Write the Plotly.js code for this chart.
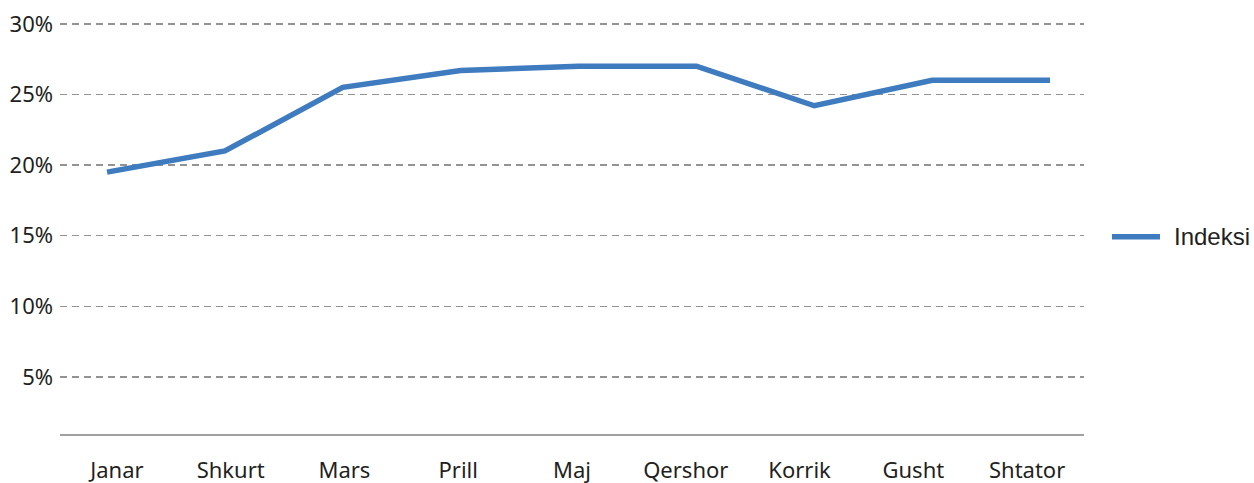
<!DOCTYPE html>
<html>
<head>
<meta charset="utf-8">
<script src="https://cdn.plot.ly/plotly-3.0.1.min.js"></script>
<style>
html,body{margin:0;padding:0;background:#fff;}
#chart{width:1254px;height:483px;}
</style>
</head>
<body>
<div id="chart"></div>
<script>
const months = ["Janar","Shkurt","Mars","Prill","Maj","Qershor","Korrik","Gusht","Shtator"];
const indeksi = [0.195, 0.210, 0.255, 0.267, 0.270, 0.270, 0.242, 0.260, 0.260];
const yTicks = [0.05, 0.10, 0.15, 0.20, 0.25, 0.30];
const yTickLabels = ["5%","10%","15%","20%","25%","30%"];
const seriesName = "Indeksi";
const lineColor = "#3E7BBF";

const idx = months.map((m, i) => i);

const trace = {
  x: idx,
  y: indeksi,
  type: "scatter",
  mode: "lines",
  name: seriesName,
  showlegend: false,
  line: {color: lineColor, width: 5.5},
  xaxis: "x",
  yaxis: "y"
};

const layout = {
  width: 1254,
  height: 483,
  margin: {l: 60, r: 170, t: 21, b: 49},
  paper_bgcolor: "#ffffff",
  plot_bgcolor: "#ffffff",
  font: {family: "Noto Sans, sans-serif", size: 22, color: "#231f20"},
  showlegend: false,
  xaxis: {
    range: [-0.399, 8.288],
    showgrid: false,
    zeroline: false,
    showline: false,
    showticklabels: false,
    ticks: "",
    fixedrange: true
  },
  xaxis2: {
    overlaying: "x",
    anchor: "y",
    side: "bottom",
    range: [-0.5, 8.5],
    tickvals: idx,
    ticktext: months,
    showgrid: false,
    zeroline: false,
    showline: true,
    linecolor: "#a0a0a0",
    linewidth: 1.5,
    ticks: "",
    ticklabelstandoff: 16,
    tickfont: {family: "Noto Sans, sans-serif", size: 22, color: "#231f20"},
    fixedrange: true
  },
  yaxis: {
    range: [0.0096, 0.302],
    tickvals: yTicks,
    ticktext: yTickLabels,
    showgrid: true,
    gridcolor: "#939393",
    gridwidth: 1.4,
    griddash: "7px,5px",
    zeroline: false,
    showline: false,
    ticks: "",
    ticklabelstandoff: 6,
    tickfont: {family: "Noto Sans, sans-serif", size: 22, color: "#231f20"},
    fixedrange: true
  },
  shapes: [{
    type: "line", xref: "paper", yref: "paper",
    x0: 1.0273, x1: 1.0742, y0: 0.4775, y1: 0.4775,
    line: {color: lineColor, width: 5.5}
  }],
  annotations: [{
    xref: "paper", yref: "paper",
    x: 1.0859, y: 0.4775, xanchor: "left", yanchor: "middle",
    text: seriesName, showarrow: false,
    font: {family: "Liberation Sans, Arial, sans-serif", size: 24, color: "#231f20"}
  }]
};

// invisible trace so the label axis (x2) is drawn
const axisTrace = {
  x: idx, y: indeksi, xaxis: "x2", yaxis: "y", type: "scatter", mode: "none",
  hoverinfo: "skip", showlegend: false
};

Plotly.newPlot("chart", [trace, axisTrace], layout, {displayModeBar: false, staticPlot: true});
</script>
</body>
</html>
